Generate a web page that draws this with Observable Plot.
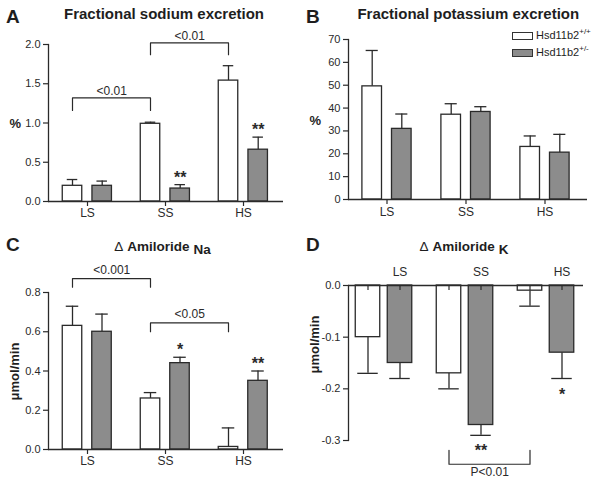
<!DOCTYPE html>
<html>
<head>
<meta charset="utf-8">
<script src="https://cdn.jsdelivr.net/npm/d3@7"></script>
<script src="https://cdn.jsdelivr.net/npm/@observablehq/plot@0.6"></script>
<style>
  html, body { margin: 0; padding: 0; background: #fff; }
  #fig { position: relative; width: 600px; height: 482px; overflow: hidden; background: #fff;
         font-family: "Liberation Sans", Arial, Helvetica, sans-serif; color: #1e1e1e; }
  .txt { position: absolute; line-height: 1; white-space: nowrap; }
  .letter { font-size: 19px; font-weight: bold; }
  .title { font-size: 15px; font-weight: bold; text-align: center; width: 260px; }
  .title2 { font-size: 13.5px; font-weight: bold; text-align: center; width: 260px; }
  .delta { font-weight: normal; }
  .sub { font-size: 13.5px; position: relative; top: 3px; margin-left: 4px; }
  .ylab { font-size: 13px; font-weight: bold; }
  .rot { text-align: center; width: 100px; height: 13px; transform: rotate(-90deg); }
  .legbox { position: absolute; width: 19px; height: 6px; border: 1px solid #333; }
  .leg { font-size: 11px; }
  .leg sup { font-size: 8px; vertical-align: 0; position: relative; top: -5px; }
</style>
</head>
<body>
<div id="fig"></div>
<script>
// ---------- data ----------
const conditions = ["LS", "SS", "HS"];
const genotypes = ["Hsd11b2+/+", "Hsd11b2+/-"];

// A: fractional sodium excretion (%)
const naExcWT = [0.20, 0.99, 1.54];
const naExcWTsem = [0.08, 0.02, 0.19];
const naExcHet = [0.20, 0.165, 0.66];
const naExcHetSem = [0.06, 0.05, 0.16];
const naExcHetSig = ["", "**", "**"];
const naExcTicks = [0, 0.5, 1.0, 1.5, 2.0];
const naExcBrFrom = ["LS", "SS"];
const naExcBrTo = ["SS", "HS"];
const naExcBrTop = [1.32, 2.02];
const naExcBrLeg = [1.16, 1.87];
const naExcBrLabel = ["<0.01", "<0.01"];

// B: fractional potassium excretion (%)
const kExcWT = [49.5, 37.1, 23.0];
const kExcWTsem = [15.7, 4.8, 4.8];
const kExcHet = [30.9, 38.3, 20.5];
const kExcHetSem = [6.5, 2.3, 8.0];
const kExcTicks = [0, 10, 20, 30, 40, 50, 60, 70];

// C: delta amiloride Na (umol/min)
const amiNaWT = [0.63, 0.26, 0.013];
const amiNaWTsem = [0.10, 0.03, 0.097];
const amiNaHet = [0.60, 0.44, 0.35];
const amiNaHetSem = [0.09, 0.03, 0.05];
const amiNaHetSig = ["", "*", "**"];
const amiNaTicks = [0, 0.2, 0.4, 0.6, 0.8];
const amiNaBrFrom = ["LS", "SS"];
const amiNaBrTo = ["SS", "HS"];
const amiNaBrTop = [0.871, 0.645];
const amiNaBrLeg = [0.827, 0.60];
const amiNaBrLabel = ["<0.001", "<0.05"];

// D: delta amiloride K (umol/min)
const amiKWT = [-0.10, -0.17, -0.01];
const amiKWTsem = [0.07, 0.03, 0.03];
const amiKHet = [-0.15, -0.27, -0.13];
const amiKHetSem = [0.03, 0.02, 0.05];
const amiKHetSig = ["", "**", "*"];
const amiKTicks = [-0.3, -0.2, -0.1, 0];
const amiKBrFrom = ["SS"];
const amiKBrTo = ["HS"];
const amiKBrTop = [-0.346];
const amiKBrLeg = [-0.319];
const amiKBrLabel = ["P<0.01"];

// ---------- helpers ----------
const INK = "#2a2a2a";
const GRAY = "#8c8c8c";
const FONT = '"Liberation Sans", Arial, Helvetica, sans-serif';
const fig = document.getElementById("fig");

function table(means, sems, sig) {
  return conditions.map((c, i) => ({cond: c, mean: means[i], sem: sems[i], sig: sig ? sig[i] : ""}));
}
function brackets(from, to, top, leg, label) {
  return from.map((f, i) => ({id: i, from: f, to: to[i], top: top[i], leg: leg[i], label: label[i]}));
}

function panel(o) {
  const bw = (o.xRange[1] - o.xRange[0]) / conditions.length;
  const barInset = (bw - o.barW) / 2;
  const capInset = (bw - o.capW) / 2;
  const s = o.negative ? -1 : 1;
  const end = d => d.mean + s * d.sem;
  const marks = [];
  marks.push(Plot.axisY({ticks: o.ticks, tickFormat: d => d.toFixed(o.decimals), tickSize: 5, tickPadding: 3, fontSize: 11, strokeWidth: 1.2}));
  if (o.topAxis) {
    marks.push(Plot.axisX({anchor: "top", tickSize: 0, tickPadding: o.xPad, dx: o.offH, fontSize: 12}));
  } else {
    marks.push(Plot.axisX({anchor: "bottom", tickSize: 5, tickPadding: o.xPad, fontSize: 12, strokeWidth: 1.2}));
  }
  for (const [data, dx, fill] of [[o.wt, -o.offW, "#ffffff"], [o.het, o.offH, GRAY]]) {
    marks.push(Plot.ruleX(data, {x: "cond", y1: "mean", y2: end, dx, stroke: INK, strokeWidth: 1.3}));
    marks.push(Plot.tickY(data, {x: "cond", y: end, dx, insetLeft: capInset, insetRight: capInset, stroke: INK, strokeWidth: 1.3}));
    marks.push(Plot.barY(data, {x: "cond", y: "mean", dx, insetLeft: barInset, insetRight: barInset, fill, stroke: INK, strokeWidth: 1.3}));
    if (o.stubs) marks.push(Plot.ruleX(data, {x: "cond", y1: 0, y2: "mean", dx, stroke: INK, strokeWidth: 1.2, strokeDasharray: "5,2000"}));
  }
  marks.push(Plot.ruleY([0], {stroke: INK, strokeWidth: 1.3}));
  marks.push(Plot.frame({anchor: "left", stroke: INK, strokeWidth: 1.3}));
  marks.push(Plot.text(o.het.filter(d => d.sig), {x: "cond", y: end, text: "sig", dx: o.offH, dy: o.sigDy, lineAnchor: "bottom", fontSize: 16, fontWeight: "bold", fill: INK}));
  if (o.brackets) {
    const pts = o.brackets.flatMap(b => [
      {id: b.id, cond: b.from, y: b.leg}, {id: b.id, cond: b.from, y: b.top},
      {id: b.id, cond: b.to, y: b.top}, {id: b.id, cond: b.to, y: b.leg}
    ]);
    marks.push(Plot.line(pts, {x: "cond", y: "y", z: "id", dx: -o.offW, stroke: INK, strokeWidth: 1.2}));
    for (const b of o.brackets) {
      const span = conditions.indexOf(b.to) - conditions.indexOf(b.from);
      marks.push(Plot.text([b], {x: "from", y: "top", text: "label", dx: -o.offW + span * bw / 2, dy: o.labelDy, lineAnchor: "bottom", fontSize: 12, fill: INK}));
    }
  }
  const svg = Plot.plot({
    width: o.width, height: o.height,
    marginLeft: o.ml, marginRight: o.mr, marginTop: o.mt, marginBottom: o.mb,
    x: {type: "band", domain: conditions, range: o.xRange, padding: 0, label: null},
    y: {domain: o.yDomain, label: null},
    style: {fontFamily: FONT, color: INK, background: "transparent", overflow: "visible"},
    marks
  });
  svg.style.position = "absolute";
  svg.style.left = o.left + "px";
  svg.style.top = o.top + "px";
  fig.appendChild(svg);
}

// ---------- panels ----------
panel({left: 0, top: 0, width: 300, height: 240, ml: 48, mr: 17, mt: 44, mb: 39,
  xRange: [47.5, 283], offW: 15, offH: 14.7, barW: 20, capW: 11,
  wt: table(naExcWT, naExcWTsem), het: table(naExcHet, naExcHetSem, naExcHetSig),
  yDomain: [0, 2], ticks: naExcTicks, decimals: 1, xPad: 2, sigDy: -2, labelDy: -3,
  brackets: brackets(naExcBrFrom, naExcBrTo, naExcBrTop, naExcBrLeg, naExcBrLabel)});

panel({left: 300, top: 0, width: 300, height: 240, ml: 48, mr: 13, mt: 39, mb: 41,
  xRange: [46, 285.7], offW: 14.8, offH: 14.8, barW: 20.5, capW: 13,
  wt: table(kExcWT, kExcWTsem), het: table(kExcHet, kExcHetSem),
  yDomain: [0, 70], ticks: kExcTicks, decimals: 0, xPad: 3, sigDy: -2});

panel({left: 0, top: 240, width: 300, height: 242, ml: 48, mr: 17, mt: 52, mb: 33,
  xRange: [47.5, 283], offW: 15, offH: 14.5, barW: 20, capW: 13,
  wt: table(amiNaWT, amiNaWTsem), het: table(amiNaHet, amiNaHetSem, amiNaHetSig),
  yDomain: [0, 0.8], ticks: amiNaTicks, decimals: 1, xPad: 2, sigDy: -2, labelDy: -5,
  brackets: brackets(amiNaBrFrom, amiNaBrTo, amiNaBrTop, amiNaBrLeg, amiNaBrLabel)});

panel({left: 300, top: 240, width: 300, height: 242, ml: 48, mr: 17, mt: 45, mb: 42,
  xRange: [42.25, 286.75], offW: 16, offH: 16, barW: 25, capW: 21, negative: true, stubs: true,
  wt: table(amiKWT, amiKWTsem), het: table(amiKHet, amiKHetSem, amiKHetSig),
  yDomain: [-0.3, 0], ticks: amiKTicks, decimals: 1, topAxis: true, xPad: 10, sigDy: 21, labelDy: 12,
  brackets: brackets(amiKBrFrom, amiKBrTo, amiKBrTop, amiKBrLeg, amiKBrLabel)});

// ---------- text: letters, titles, axis labels, legend ----------
function addText(html, cls, style) {
  const d = document.createElement("div");
  d.className = "txt " + cls;
  d.innerHTML = html;
  Object.assign(d.style, style);
  fig.appendChild(d);
  return d;
}
addText("A", "letter", {left: "6px", top: "7px"});
addText("B", "letter", {left: "306px", top: "7px"});
addText("C", "letter", {left: "6px", top: "235px"});
addText("D", "letter", {left: "306px", top: "235px"});

addText("Fractional sodium excretion", "title", {left: (164 - 130) + "px", top: "5.6px"});
addText("Fractional potassium excretion", "title", {left: (468.3 - 130) + "px", top: "5.6px"});
addText('<span class="delta">&Delta;</span> Amiloride<span class="sub">Na</span>', "title2", {left: (162.5 - 130) + "px", top: "240.3px"});
addText('<span class="delta">&Delta;</span> Amiloride<span class="sub">K</span>', "title2", {left: (464 - 130) + "px", top: "240.3px"});

addText("%", "ylab", {left: "9.5px", top: "117.3px"});
addText("%", "ylab", {left: "309.5px", top: "113.8px"});
addText("&mu;mol/min", "ylab rot", {left: (14.2 - 50) + "px", top: (371 - 6.5) + "px"});
addText("&mu;mol/min", "ylab rot", {left: (314.2 - 50) + "px", top: (344 - 6.5) + "px"});

// legend (panel B)
const lb1 = document.createElement("div");
lb1.className = "legbox"; Object.assign(lb1.style, {left: "511.7px", top: "32.3px", background: "#fff"});
fig.appendChild(lb1);
const lb2 = document.createElement("div");
lb2.className = "legbox"; Object.assign(lb2.style, {left: "511.7px", top: "49.3px", background: GRAY});
fig.appendChild(lb2);
addText(genotypes[0].replace("+/+", "") + "<sup>+/+</sup>", "leg", {left: "536px", top: "30.2px"});
addText(genotypes[1].replace("+/-", "") + "<sup>+/-</sup>", "leg", {left: "536px", top: "46.7px"});
</script>
</body>
</html>
